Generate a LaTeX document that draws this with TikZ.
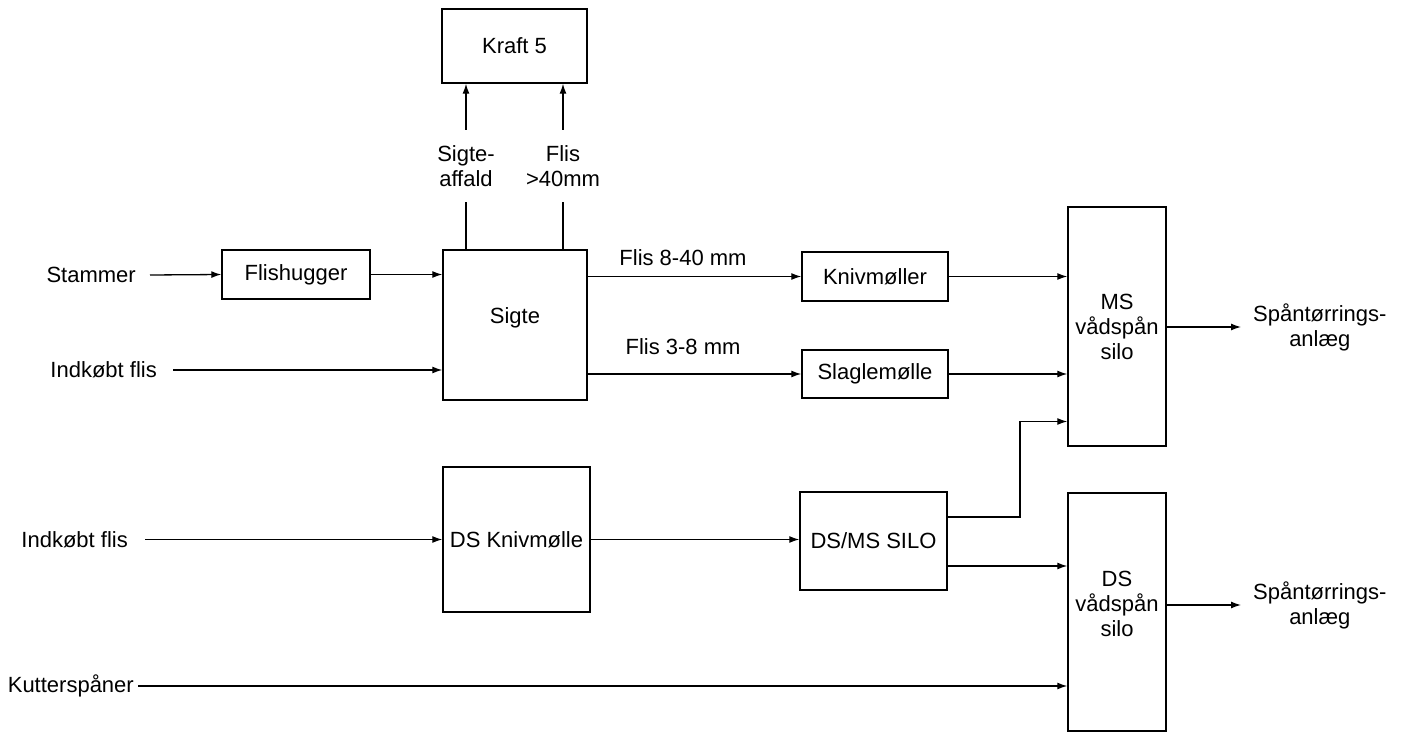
\documentclass[tikz,border=0pt]{standalone}
\usepackage{fontspec}
\setmainfont{Liberation Sans}
\usetikzlibrary{arrows.meta}
\begin{document}
\begin{tikzpicture}[x=1pt,y=-1pt,
  font=\fontsize{22}{25}\selectfont,
  box/.style={draw=black,line width=1.4pt,inner sep=0pt,align=center},
  lbl/.style={inner sep=0pt,align=center},
  flow/.style={line width=1.3pt,-{Latex[length=10pt,width=7pt]}},
  plain/.style={line width=1.3pt}]
\useasboundingbox (0,0) rectangle (1409,733);
% boxes
\node[box,minimum width=145pt,minimum height=74pt] (kraft) at (514.5,46) {Kraft 5};
\node[box,minimum width=148pt,minimum height=49pt] (flish) at (296,274.5) {Flishugger};
\node[box,minimum width=144pt,minimum height=150pt] (sigte) at (515,325) {};
\node[lbl] at (515,318) {Sigte};
\node[box,minimum width=146pt,minimum height=49pt] (knm) at (875,276.5) {Knivmøller};
\node[box,minimum width=146pt,minimum height=48pt] (slm) at (875,374) {Slaglemølle};
\node[box,minimum width=98pt,minimum height=239pt] (ms) at (1117,326.5) {MS\\vådspån\\silo};
\node[box,minimum width=147pt,minimum height=145pt] (dsk) at (516.5,539.5) {DS Knivmølle};
\node[box,minimum width=147pt,minimum height=98pt] (dsms) at (873.5,541) {DS/MS SILO};
\node[box,minimum width=98pt,minimum height=238pt,
  label={[lbl,yshift=8pt]center:{DS\\vådspån\\silo}}] (dss) at (1117,612) {};
% labels
\node[lbl,anchor=east] (stam) at (136,275) {Stammer};
\node[lbl,anchor=east] (ind1) at (157,370) {Indkøbt flis};
\node[lbl,anchor=east] (ind2) at (128,539.5) {Indkøbt flis};
\node[lbl,anchor=east] (kut) at (134,686) {Kutterspåner};
\node[lbl,minimum height=72pt] (saff) at (466,166) {Sigte-\\affald};
\node[lbl,minimum height=72pt] (f40) at (563,166) {Flis\\>40mm};
\node[lbl] (f840) at (683,258) {Flis 8-40 mm};
\node[lbl] (f38) at (683,347) {Flis 3-8 mm};
\node[lbl,anchor=west] (sp1) at (1253,327) {Spåntørrings-\\anlæg};
\node[lbl,anchor=west] (sp2) at (1253,605) {Spåntørrings-\\anlæg};
\coordinate (bend) at (1020,470);
% connectors
\draw[flow] ([xshift=14pt]stam.east) -- (flish.west);
\draw[flow] (flish.east) -- (flish.east -| sigte.west);
\draw[flow] ([xshift=16pt]ind1.east) -- (ind1.east -| sigte.west);
\draw[plain] (saff.south |- sigte.north) -- (saff.south);
\draw[flow] (saff.north) -- (saff.north |- kraft.south);
\draw[plain] (f40.south |- sigte.north) -- (f40.south);
\draw[flow] (f40.north) -- (f40.north |- kraft.south);
\draw[flow] (knm.west -| sigte.east) -- (knm.west);
\draw[flow] (slm.west -| sigte.east) -- (slm.west);
\draw[flow] (knm.east) -- (knm.east -| ms.west);
\draw[flow] (slm.east) -- (slm.east -| ms.west);
\draw[flow] ([yshift=24pt]dsms.east) -| (bend) |- ([yshift=-95pt]ms.west);
\draw[flow] ([yshift=-25pt]dsms.east) -- ([yshift=-25pt]dsms.east -| dss.west);
\draw[flow] ([xshift=17pt]ind2.east) -- (ind2.east -| dsk.west);
\draw[flow] (dsk.east) -- (dsk.east -| dsms.west);
\draw[flow] ([xshift=4pt]kut.east) -- (kut.east -| dss.west);
\draw[flow] (ms.east |- sp1.west) -- ([xshift=-12pt]sp1.west);
\draw[flow] (dss.east |- sp2.west) -- ([xshift=-12pt]sp2.west);
\end{tikzpicture}
\end{document}
